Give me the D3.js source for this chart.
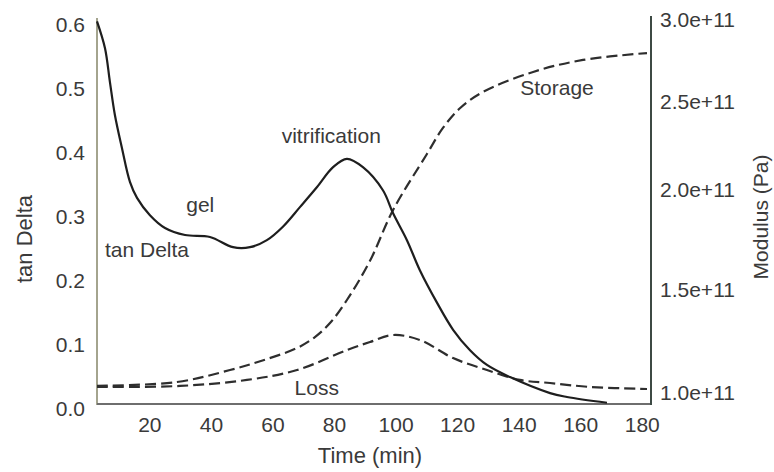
<!DOCTYPE html>
<html>
<head>
<meta charset="utf-8">
<script src="https://cdn.jsdelivr.net/npm/d3@7"></script>
<style>
  html, body { margin: 0; padding: 0; background: #fff; }
  svg text { font-family: "Liberation Sans", Arial, sans-serif; fill: #3a3a3a; }
</style>
</head>
<body>
<svg id="chart" width="774" height="472"></svg>
<script>
// tan Delta curve (time in min, dimensionless)
const tanTime  = [3, 5.6, 7.2, 8.8, 11.1, 13.7, 16.0, 20.2, 25.1, 31.6, 39.7, 47.2, 52.7, 58.2, 63.4, 69.0, 74.5, 79.7, 84.2, 89.4, 95.9, 99.2, 103.7, 107.9, 113.5, 118.7, 124.2, 129.7, 137.2, 150.2, 155.7, 168.7];
const tanDelta = [0.598, 0.556, 0.503, 0.452, 0.400, 0.347, 0.322, 0.295, 0.275, 0.264, 0.261, 0.245, 0.245, 0.256, 0.277, 0.308, 0.339, 0.370, 0.383, 0.370, 0.334, 0.298, 0.256, 0.209, 0.158, 0.116, 0.084, 0.061, 0.042, 0.017, 0.011, 0.002];

// Storage modulus (Pa)
const storageTime = [3, 29.0, 46.2, 57.3, 68.0, 73.8, 78.7, 84.2, 91.7, 99.2, 110.2, 115.4, 121.0, 128.4, 144.7, 160.9, 181.7];
const storageMod  = [1.015e11, 1.034e11, 1.092e11, 1.141e11, 1.199e11, 1.252e11, 1.320e11, 1.432e11, 1.626e11, 1.880e11, 2.182e11, 2.330e11, 2.443e11, 2.537e11, 2.659e11, 2.732e11, 2.774e11];

// Loss modulus (Pa)
const lossTime = [3, 30.0, 51.7, 68.0, 84.2, 91.7, 99.2, 107.9, 118.7, 129.7, 140.4, 150.2, 163.2, 181.7];
const lossMod  = [1.010e11, 1.015e11, 1.044e11, 1.092e11, 1.189e11, 1.228e11, 1.262e11, 1.238e11, 1.150e11, 1.092e11, 1.044e11, 1.029e11, 1.010e11, 1.000e11];

// Tick labels
const timeTicks    = [20, 40, 60, 80, 100, 120, 140, 160, 180];
const tanTicks     = [0.0, 0.1, 0.2, 0.3, 0.4, 0.5, 0.6];
const modulusTicks = [1.0e11, 1.5e11, 2.0e11, 2.5e11, 3.0e11];

// Annotations placed in data coordinates (time, tan Delta)
const notes = [
  { text: "gel",           t: 32.0,  v: 0.300 },
  { text: "tan Delta",     t: 5.6,   v: 0.23 },
  { text: "vitrification", t: 63.0,  v: 0.408 },
  { text: "Storage",       t: 140.5, v: 0.483 },
  { text: "Loss",          t: 67.2,  v: 0.014 }
];

const svg = d3.select("#chart");
const left = 97, right = 651, bottom = 404;

const x = d3.scaleLinear().domain([3, 183]).range([left, right]);
const yTan = d3.scaleLinear().domain([0, 0.6]).range([bottom, 20]);
// modulus axis is spaced unevenly on the printed figure
const yMod = d3.scaleLinear()
  .domain(modulusTicks)
  .range([389, 286, 186, 98, 16]);

// axis lines
svg.append("line").attr("x1", left).attr("x2", left).attr("y1", 18).attr("y2", bottom + 1)
  .attr("stroke", "#a4a48e").attr("stroke-width", 2);
svg.append("line").attr("x1", left).attr("x2", right).attr("y1", bottom).attr("y2", bottom)
  .attr("stroke", "#6e6e6e").attr("stroke-width", 2);
svg.append("line").attr("x1", right).attr("x2", right).attr("y1", 16).attr("y2", bottom + 1)
  .attr("stroke", "#3d4a44").attr("stroke-width", 2);

// tick labels
const fontSize = 21;
const gL = svg.append("g").attr("transform", `translate(${left},0)`)
  .call(d3.axisLeft(yTan).tickValues(tanTicks).tickSize(0).tickPadding(12).tickFormat(d3.format(".1f")));
const gR = svg.append("g").attr("transform", `translate(${right},0)`)
  .call(d3.axisRight(yMod).tickValues(modulusTicks).tickSize(0).tickPadding(9)
    .tickFormat(d => (d / 1e11).toFixed(1) + "e+11"));
const gB = svg.append("g").attr("transform", `translate(0,${bottom})`)
  .call(d3.axisBottom(x).tickValues(timeTicks).tickSize(0).tickPadding(13).tickFormat(d3.format("d")));

[gL, gR, gB].forEach(g => {
  g.select(".domain").remove();
  g.selectAll("text").attr("font-size", fontSize).attr("fill", "#3a3a3a")
    .style("font-family", '"Liberation Sans", Arial, sans-serif');
});
gL.selectAll("text").attr("y", 5);
gR.selectAll("text").attr("y", 4);

// axis titles
svg.append("text").attr("transform", "translate(32,239) rotate(-90)")
  .attr("text-anchor", "middle").attr("font-size", 22).text("tan Delta");
svg.append("text").attr("transform", "translate(768,217) rotate(-90)")
  .attr("text-anchor", "middle").attr("font-size", 21).text("Modulus (Pa)");
svg.append("text").attr("x", 370).attr("y", 463)
  .attr("text-anchor", "middle").attr("font-size", 22).text("Time (min)");

// curves
const tanLine = d3.line().x(d => x(d[0])).y(d => yTan(d[1])).curve(d3.curveCatmullRom.alpha(0.5));
const modLine = d3.line().x(d => x(d[0])).y(d => yMod(d[1])).curve(d3.curveCatmullRom.alpha(0.5));

svg.append("path").datum(d3.zip(storageTime, storageMod)).attr("d", modLine)
  .attr("fill", "none").attr("stroke", "#2e2e2e").attr("stroke-width", 2.2)
  .attr("stroke-dasharray", "11,5");
svg.append("path").datum(d3.zip(lossTime, lossMod)).attr("d", modLine)
  .attr("fill", "none").attr("stroke", "#2e2e2e").attr("stroke-width", 2.2)
  .attr("stroke-dasharray", "11,5");
svg.append("path").datum(d3.zip(tanTime, tanDelta)).attr("d", tanLine)
  .attr("fill", "none").attr("stroke", "#1e1e1e").attr("stroke-width", 2.2);

// annotations
svg.selectAll("text.note").data(notes).enter().append("text")
  .attr("class", "note")
  .attr("x", d => x(d.t)).attr("y", d => yTan(d.v))
  .attr("font-size", fontSize)
  .text(d => d.text);
</script>
</body>
</html>
